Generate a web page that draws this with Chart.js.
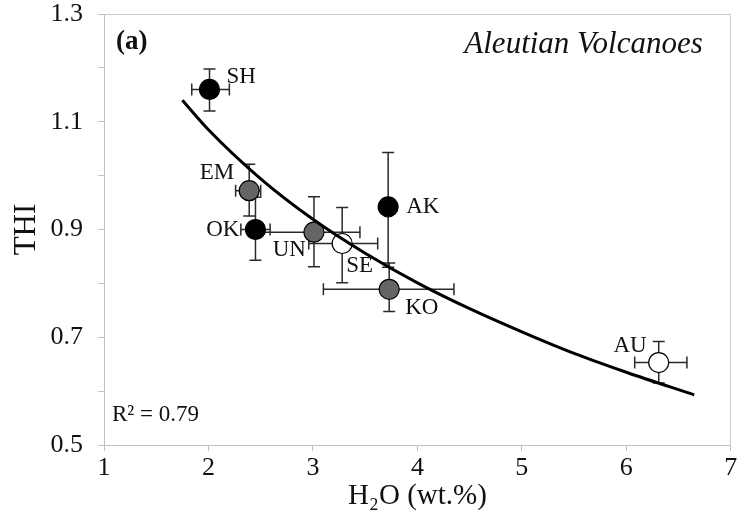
<!DOCTYPE html>
<html>
<head>
<meta charset="utf-8">
<script src="https://cdn.jsdelivr.net/npm/chart.js@4.4.1/dist/chart.umd.min.js"></script>
<style>
  html, body { margin: 0; background: #fff; }
  #wrap { width: 742px; height: 515px; }
</style>
</head>
<body>
<div id="wrap"><canvas id="c"></canvas></div>
<script>
// volcano data
const names = ["SH", "EM", "OK", "UN", "SE", "AK", "KO", "AU"];
const h2o = [2.01, 2.39, 2.45, 3.01, 3.28, 3.72, 3.73, 6.31];
const thi = [1.16, 0.972, 0.90, 0.895, 0.874, 0.942, 0.789, 0.653];
const h2oLow = [1.84, 2.26, 2.31, 2.43, 2.96, null, 3.10, 6.08];
const h2oHigh = [2.20, 2.50, 2.59, 3.45, 3.62, null, 4.35, 6.58];
const thiLow = [1.12, 0.925, 0.843, 0.831, 0.801, 0.830, 0.748, 0.615];
const thiHigh = [1.198, 1.021, 0.96, 0.961, 0.941, 1.043, 0.838, 0.692];
const groups = ["black", "gray", "black", "gray", "white", "black", "gray", "white"];

// trend curve
const fitH2o = [1.75, 2, 2.5, 3, 3.5, 4, 4.5, 5, 5.5, 6, 6.65];
const fitThi = [1.14, 1.085, 0.994, 0.919, 0.856, 0.801, 0.753, 0.710, 0.670, 0.635, 0.593];

const yLabels = [0.5, 0.7, 0.9, 1.1, 1.3];

const fills = { black: "#000000", gray: "#656565", white: "#ffffff" };
const SERIF = "'Liberation Serif', 'Times New Roman', serif";

// where each name sits next to its point
const labelPos = {
    SH: [17, -12, "left"],
    EM: [-15, -18, "right"],
    OK: [-16, 0, "right"],
    UN: [-8, 18, "right"],
    SE: [4, 22, "left"],
    AK: [18, 0, "left"],
    KO: [16, 19, "left"],
    AU: [-12, -17, "right"]
};

const extras = {
    id: "extras",
    beforeDatasetsDraw(chart) {
        const ctx = chart.ctx;
        const x = chart.scales.x, y = chart.scales.y;
        const a = chart.chartArea;
        // frame top + right
        ctx.save();
        ctx.strokeStyle = "#c9c9c9";
        ctx.lineWidth = 1;
        ctx.beginPath();
        ctx.moveTo(a.left, a.top + 0.5);
        ctx.lineTo(a.right - 0.5, a.top + 0.5);
        ctx.lineTo(a.right - 0.5, a.bottom);
        ctx.stroke();

        // error bars
        ctx.strokeStyle = "#2a2a2a";
        ctx.lineWidth = 1.5;
        const cap = 6;
        for (let i = 0; i < names.length; i++) {
            const px = x.getPixelForValue(h2o[i]);
            const py = y.getPixelForValue(thi[i]);
            ctx.beginPath();
            if (thiLow[i] != null) {
                const y1 = y.getPixelForValue(thiLow[i]);
                const y2 = y.getPixelForValue(thiHigh[i]);
                ctx.moveTo(px, y1); ctx.lineTo(px, y2);
                ctx.moveTo(px - cap, y1); ctx.lineTo(px + cap, y1);
                ctx.moveTo(px - cap, y2); ctx.lineTo(px + cap, y2);
            }
            if (h2oLow[i] != null) {
                const x1 = x.getPixelForValue(h2oLow[i]);
                const x2 = x.getPixelForValue(h2oHigh[i]);
                ctx.moveTo(x1, py); ctx.lineTo(x2, py);
                ctx.moveTo(x1, py - cap); ctx.lineTo(x1, py + cap);
                ctx.moveTo(x2, py - cap); ctx.lineTo(x2, py + cap);
            }
            ctx.stroke();
        }
        ctx.restore();
    },
    afterDatasetsDraw(chart) {
        const ctx = chart.ctx;
        const x = chart.scales.x, y = chart.scales.y;
        const a = chart.chartArea;
        ctx.save();
        ctx.fillStyle = "#111";
        ctx.textBaseline = "middle";
        ctx.font = "23px " + SERIF;
        for (let i = 0; i < names.length; i++) {
            const p = labelPos[names[i]];
            ctx.textAlign = p[2];
            ctx.fillText(names[i], x.getPixelForValue(h2o[i]) + p[0], y.getPixelForValue(thi[i]) + p[1]);
        }
        ctx.textBaseline = "alphabetic";
        ctx.textAlign = "left";
        ctx.font = "bold 27px " + SERIF;
        ctx.fillText("(a)", a.left + 12, a.top + 35);
        ctx.textAlign = "right";
        ctx.font = "italic 31px " + SERIF;
        ctx.fillText("Aleutian Volcanoes", a.right - 28, a.top + 39);
        ctx.textAlign = "left";
        ctx.font = "23px " + SERIF;
        ctx.fillText("R\u00B2 = 0.79", a.left + 8, a.bottom - 24);
        ctx.restore();
    }
};

new Chart(document.getElementById("c"), {
    type: "scatter",
    data: {
        datasets: [{
            type: "line",
            data: fitH2o.map((v, i) => ({ x: v, y: fitThi[i] })),
            borderColor: "#000",
            borderWidth: 3,
            pointRadius: 0,
            tension: 0.4,
            cubicInterpolationMode: "monotone",
            fill: false,
            order: 1
        }, {
            data: h2o.map((v, i) => ({ x: v, y: thi[i] })),
            backgroundColor: groups.map(g => fills[g]),
            borderColor: "#000",
            borderWidth: 1.2,
            pointRadius: 10,
            pointHoverRadius: 10,
            order: 2
        }]
    },
    options: {
        responsive: true,
        maintainAspectRatio: false,
        animation: false,
        layout: { padding: { top: 14, right: 4, left: 0, bottom: 0 } },
        plugins: { legend: { display: false }, tooltip: { enabled: false } },
        scales: {
            x: {
                type: "linear",
                min: 1, max: 7,
                afterFit: s => { s.height = 70; s.paddingLeft = 0; s.paddingRight = 0; },
                grid: { drawOnChartArea: false, tickLength: 6, color: "#c0c0c0" },
                border: { color: "#c0c0c0" },
                ticks: { stepSize: 1, color: "#111", padding: 2, font: { family: SERIF, size: 26 } },
                title: { display: true, text: "H\u2082O (wt.%)", color: "#111", padding: { top: 0, bottom: 1 },
                         font: { family: SERIF, size: 29 } }
            },
            y: {
                min: 0.5, max: 1.3,
                afterFit: s => { s.width = 104; s.paddingTop = 0; s.paddingBottom = 0; },
                grid: { drawOnChartArea: false, tickLength: 6, color: "#c0c0c0" },
                border: { color: "#c0c0c0" },
                ticks: {
                    stepSize: 0.1, color: "#111", padding: 15, font: { family: SERIF, size: 26 },
                    callback: v => {
                        const r = Math.round(v * 10) / 10;
                        return yLabels.includes(r) ? r.toFixed(1) : "";
                    }
                },
                title: { display: true, text: "THI", color: "#111", padding: { top: 8, bottom: 0 },
                         font: { family: SERIF, size: 31 } }
            }
        }
    },
    plugins: [extras]
});
</script>
</body>
</html>
